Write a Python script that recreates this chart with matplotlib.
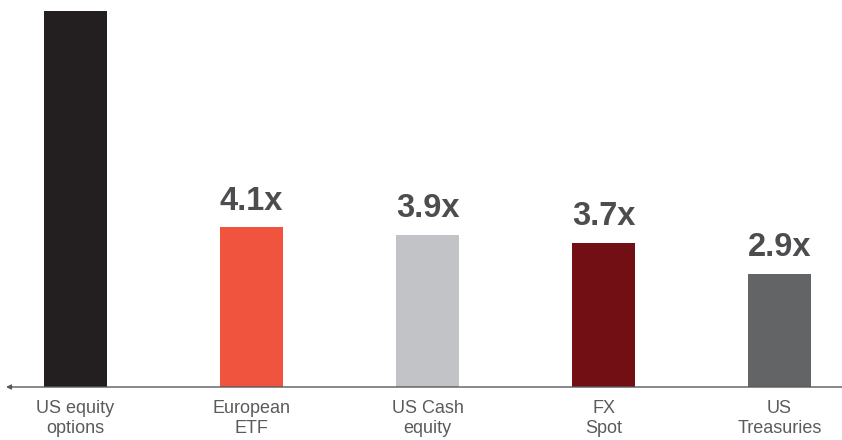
import matplotlib.pyplot as plt

# Datos
categories = ['US equity\noptions', 'European\nETF', 'US Cash\nequity', 'FX\nSpot', 'US\nTreasuries']
values = [9.64, 4.1, 3.9, 3.7, 2.9]
labels = ['', '4.1x', '3.9x', '3.7x', '2.9x']
colors = ['#231f20', '#f0533e', '#c2c3c6', '#720f14', '#636466']

fig = plt.figure(figsize=(8.42, 4.40), dpi=100)
ax = fig.add_axes([0, 53 / 440, 1, 387 / 440])

x = range(len(categories))
bars = ax.bar(x, values, width=0.358, color=colors, zorder=2)

for b, lab in zip(bars, labels):
    if lab:
        ax.text(b.get_x() + b.get_width() / 2, b.get_height() + 0.27, lab,
                ha='center', va='bottom', fontsize=23.5, fontweight='bold',
                color='#4d4d4f', family='Liberation Sans')

ax.set_xlim(-75.5 / 176, (842 - 75.5) / 176)
ax.set_ylim(0, 387 / 39)

for s in ax.spines.values():
    s.set_visible(False)
ax.set_yticks([])
ax.set_xticks(list(x))
ax.set_xticklabels(categories, fontsize=13, color='#5a5b5d', family='Liberation Sans',
                   linespacing=1.25)
ax.tick_params(axis='x', length=0, pad=9)

# Eje con flecha a la izquierda
ax.annotate('', xy=(6 / 842, 0), xytext=(1, 0), xycoords='axes fraction',
            textcoords='axes fraction',
            arrowprops=dict(arrowstyle='-|>', color='#58595b', lw=1.0,
                            mutation_scale=7, shrinkA=0, shrinkB=0),
            zorder=3, annotation_clip=False)

fig.savefig('out.png', dpi=100)
